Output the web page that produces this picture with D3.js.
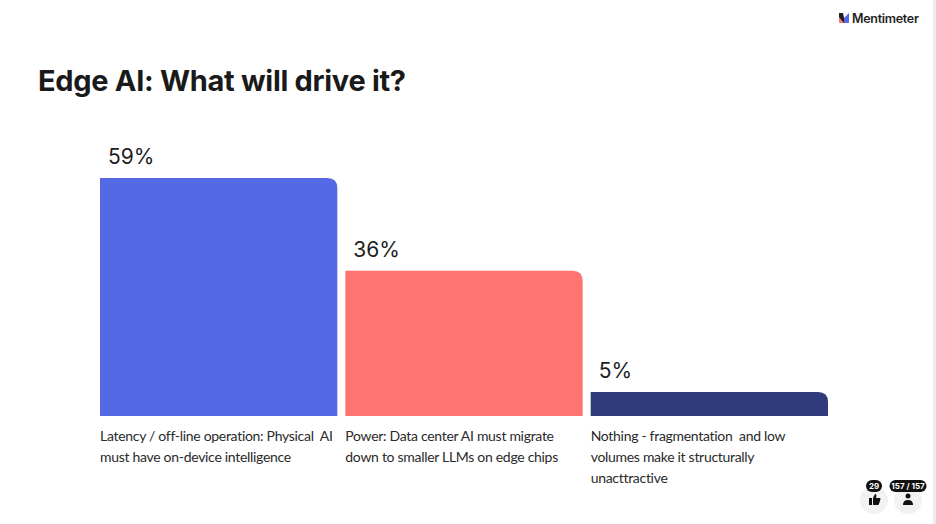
<!DOCTYPE html>
<html>
<head>
<meta charset="utf-8">
<script src="https://cdn.jsdelivr.net/npm/d3@7"></script>
<style>
  html, body { margin: 0; padding: 0; background: #fff; }
  svg { display: block; font-family: Inter, "Noto Sans", sans-serif; }
  .cat { font-family: Lato, "Noto Sans", sans-serif; white-space: pre; }
</style>
</head>
<body>
<div id="canvas"></div>
<script>
const categories = [
  ["Latency / off-line operation: Physical  AI", "must have on-device intelligence"],
  ["Power: Data center AI must migrate", "down to smaller LLMs on edge chips"],
  ["Nothing - fragmentation  and low", "volumes make it structurally", "unacttractive"]
];
const values = [59, 36, 5];
const colors = ["#5469e6", "#ff7370", "#2f3b7a"];
const title = "Edge AI: What will drive it?";

const width = 936, height = 524;
const svg = d3.select("#canvas").append("svg")
  .attr("width", width).attr("height", height);

// right edge line
svg.append("rect").attr("x", 933).attr("y", 0).attr("width", 3).attr("height", height).attr("fill", "#ececec");

// logo
const logo = svg.append("g").attr("transform", "translate(839,13)");
logo.append("path").attr("d", "M0,0 L4,0 L5,5 L5,10 L0,10 Z").attr("fill", "#1e1e1e");
logo.append("path").attr("d", "M0,4 L5,10 L0,10 Z").attr("fill", "#ff7370");
logo.append("path").attr("d", "M5,5 L10,0 L10,10 L5,10 Z").attr("fill", "#5469e6");
svg.append("text").attr("x", 852).attr("y", 23)
  .attr("font-size", 12.5).attr("font-weight", 600).attr("fill", "#1e1e1e")
  .attr("letter-spacing", -0.3).text("Mentimeter");

svg.append("text").attr("x", 38).attr("y", 91)
  .attr("font-size", 29).attr("font-weight", 700).attr("fill", "#1a1a1a")
  .attr("letter-spacing", -0.3).text(title);

const x = d3.scaleBand().domain(d3.range(values.length))
  .range([100, 828]).paddingInner(0.0327).paddingOuter(0);
const y = d3.scaleLinear().domain([0, 59]).range([416, 178]);

const r = 10;
function barPath(x0, w, top, bottom) {
  const rr = Math.min(r, bottom - top);
  return `M${x0},${bottom} L${x0},${top} L${x0 + w - rr},${top} Q${x0 + w},${top} ${x0 + w},${top + rr} L${x0 + w},${bottom} Z`;
}

const bars = svg.selectAll("g.bar").data(values).enter().append("g").attr("class", "bar");

bars.append("path")
  .attr("d", (d, i) => barPath(x(i), x.bandwidth(), Math.min(y(d), 392), y(0)))
  .attr("fill", (d, i) => colors[i]);

bars.append("text")
  .attr("x", (d, i) => x(i) + 8)
  .attr("y", d => Math.min(y(d), 392) - 14)
  .attr("font-size", 21).attr("fill", "#1e1e1e")
  .text(d => d + "%");

bars.each(function(d, i) {
  const t = d3.select(this).append("text").attr("class", "cat")
    .attr("font-size", 14).attr("letter-spacing", -0.3).attr("fill", "#2a2a2a");
  categories[i].forEach((line, j) => {
    t.append("tspan").attr("x", x(i)).attr("y", 441 + j * 21).text(line);
  });
});

// bottom-right widgets
const widgets = [{cx: 874, label: "29", w: 16}, {cx: 908, label: "157 / 157", w: 37}];
widgets.forEach(wd => {
  svg.append("circle").attr("cx", wd.cx).attr("cy", 500).attr("r", 14).attr("fill", "#f2f2f2");
  svg.append("rect").attr("x", wd.cx - wd.w / 2).attr("y", 480).attr("width", wd.w).attr("height", 12)
    .attr("rx", 6).attr("fill", "#111");
  svg.append("text").attr("x", wd.cx).attr("y", 489).attr("text-anchor", "middle")
    .attr("font-size", 8).attr("font-weight", 700).attr("fill", "#fff").text(wd.label);
});
// thumbs up
svg.append("path").attr("d", "M869,498 h3 v7 h-3 Z M873,498 l2,-4 q1.5,0 1.5,1.5 l-0.5,2.5 h3.5 q1,0 1,1 l-1.5,5 q-0.3,1 -1.3,1 h-4.7 Z")
  .attr("fill", "#111");
// person
svg.append("circle").attr("cx", 908).attr("cy", 496).attr("r", 2.5).attr("fill", "#111");
svg.append("path").attr("d", "M903,505 q0,-5 5,-5 q5,0 5,5 Z").attr("fill", "#111");
</script>
</body>
</html>
